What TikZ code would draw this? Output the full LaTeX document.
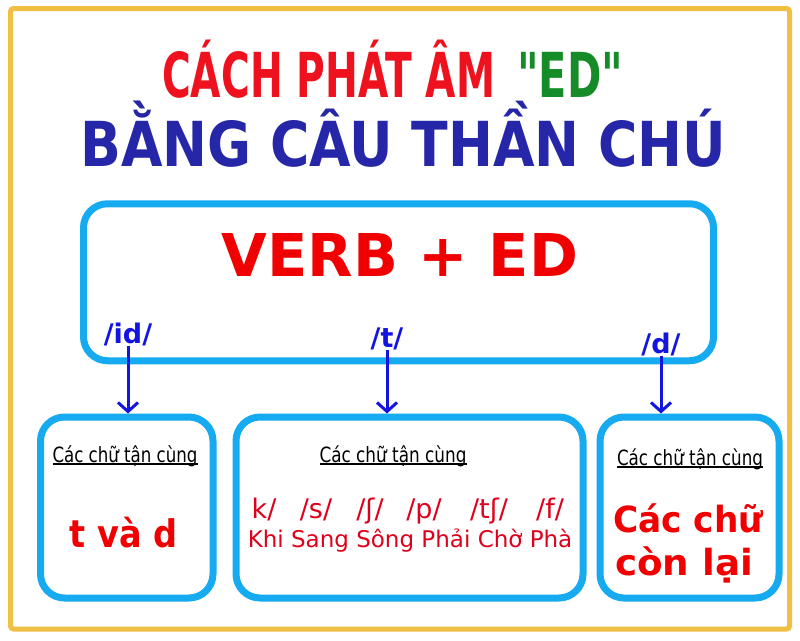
\documentclass[tikz,border=0pt]{standalone}
\usepackage{fontspec}
\setmainfont{DejaVu Sans}
\newfontfamily\rawdv{DejaVu Sans}[Ligatures=ResetAll]
\usepackage{graphicx}
\usetikzlibrary{arrows.meta}
\definecolor{boxblue}{RGB}{22,170,240}
\definecolor{arrblue}{RGB}{20,20,225}
\definecolor{titleblue}{RGB}{38,38,168}
\definecolor{titlered}{RGB}{238,18,30}
\definecolor{titlegreen}{RGB}{22,140,40}
\definecolor{verbred}{RGB}{240,0,0}
\definecolor{wordred}{RGB}{222,0,28}
\definecolor{gold}{RGB}{240,192,66}
\newcommand\fs[1]{\fontsize{#1}{#1}\selectfont}
\newsavebox\ulbox
\newcommand\ulc[1]{\sbox\ulbox{#1}\rlap{\rule[-2.8pt]{\wd\ulbox}{1.4pt}}\usebox\ulbox}
\newcommand\fitw[2]{\resizebox{#1}{\height}{#2}}
\begin{document}
\begin{tikzpicture}[x=1pt,y=-1pt,
  rbox/.style={draw=boxblue,line width=7pt,rounded corners=24pt,inner sep=0pt,fill=white},
  txt/.style={anchor=base,inner sep=0pt},
  ph/.style={txt,text=arrblue,font=\bfseries\fs{27}},
  arr/.style={draw=arrblue,line width=3pt,-{Straight Barb[length=9pt,width=20pt]}},
  sub/.style={txt,font=\fs{21}},
  pho/.style={txt,text=wordred,font=\fs{27}},
  big/.style={txt,text=verbred,font=\bfseries\fs{36}},
  title/.style={txt,anchor=base west,font=\bfseries\fs{62}},
]
\useasboundingbox (0,0) rectangle (800,640);
\fill[white] (0,0) rectangle (800,640);
\draw[gold,line width=5pt,rounded corners=3pt] (10.5,8.5) rectangle (789.5,629);

% title
\node[title,text=titlered] (t1) at (162,97) {\fitw{333pt}{CÁCH PHÁT ÂM}};
\node[title,text=titlegreen] (t1b) at (517,97) {\fitw{106pt}{\rawdv\bfseries "ED"}};
\node[title,text=titleblue] (t2) at (80,166) {\fitw{646pt}{BẰNG CÂU THẦN CHÚ}};

% main box
\node[rbox,minimum width=630pt,minimum height=157pt] (main) at (398.5,282.25) {};
\node[txt,text=verbred,font=\bfseries\fs{59}] (verb) at (400,276) {VERB + ED};
\node[ph] (id) at (128,343) {/id/};
\node[ph] (t) at (387,347) {/t/};
\node[ph] (d) at (661,353) {/d/};

% bottom boxes
\node[rbox,minimum width=172.5pt,minimum height=181pt] (leftbox) at (126.75,507.5) {};
\node[rbox,minimum width=347pt,minimum height=181pt] (midbox) at (409.5,507.5) {};
\node[rbox,minimum width=179pt,minimum height=181pt] (rightbox) at (689.5,507.5) {};

% arrows
\draw[arr] (id.south) -- (id.south |- leftbox.north);
\draw[arr] (t.south) -- (t.south |- midbox.north);
\draw[arr] (d.south) -- (d.south |- rightbox.north);

% box texts
\node[sub] (s1) at (125,462) {\fitw{145pt}{\ulc{Các chữ tận cùng}}};
\node[sub] (s2) at (393,462) {\fitw{147pt}{\ulc{Các chữ tận cùng}}};
\node[sub] (s3) at (690,465) {\fitw{146pt}{\ulc{Các chữ tận cùng}}};

\node[big,font=\bfseries\fs{38}] (tvd) at (124,547) {\fitw{108pt}{t và d}};
\node[big] (cc1) at (688,532) {\fitw{150pt}{Các chữ}};
\node[big] (cc2) at (684,575) {\fitw{138pt}{còn lại}};

\node[pho] (p1) at (264,518) {k/};
\node[pho] (p2) at (316,518) {/s/};
\node[pho] (p3) at (370,518) {/ʃ/};
\node[pho] (p4) at (424,518) {/p/};
\node[pho] (p5) at (489,518) {/tʃ/};
\node[pho] (p6) at (550,518) {/f/};
\node[txt,text=wordred,font=\fs{23}] (words) at (410,547) {Khi Sang Sông Phải Chờ Phà};
\end{tikzpicture}
\end{document}
